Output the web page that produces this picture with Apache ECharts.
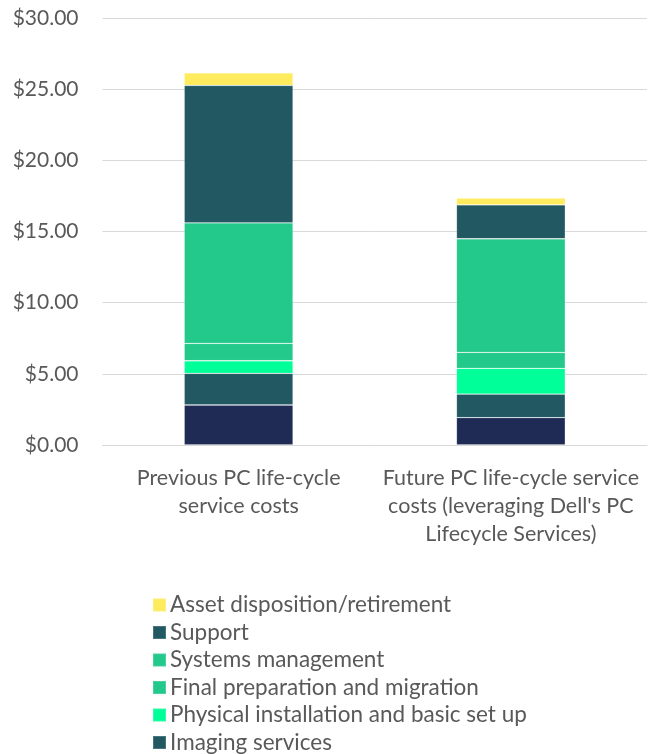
<!DOCTYPE html>
<html>
<head>
<meta charset="utf-8">
<script src="https://cdn.jsdelivr.net/npm/echarts@6/dist/echarts.min.js"></script>
<style>
  html, body { margin: 0; padding: 0; background: #fff; }
  #chart { width: 657px; height: 754px; }
</style>
</head>
<body>
<div id="chart"></div>
<script>
  // categories (x axis)
  var categories = [
    'Previous PC life-cycle\nservice costs',
    'Future PC life-cycle service\ncosts (leveraging Dell\'s PC\nLifecycle Services)'
  ]

  // series values, bottom of the stack first
  var planning = [2.81, 1.92]
  var imaging = [2.22, 1.66]
  var physical = [0.89, 1.81]
  var finalPrep = [1.22, 1.12]
  var systemsMgmt = [8.47, 7.98]
  var support = [9.65, 2.38]
  var assetDisposition = [0.88, 0.48]

  var seriesNames = [
    'Planning and procurement',
    'Imaging services',
    'Physical installation and basic set up',
    'Final preparation and migration',
    'Systems management',
    'Support',
    'Asset disposition/retirement'
  ]
  var seriesData = [planning, imaging, physical, finalPrep, systemsMgmt, support, assetDisposition]
  var seriesColors = ['#1f2b55', '#215862', '#00ff99', '#22c98a', '#22c98a', '#215862', '#ffeb5e']

  var yTicks = { min: 0, max: 30, interval: 5 }

  var chart = echarts.init(document.getElementById('chart'))
  var font = 'Lato, "Open Sans", sans-serif'

  chart.setOption({
    animation: false,
    textStyle: { fontFamily: font },
    grid: {
      left: 102.5,
      right: 10,
      top: 18,
      bottom: 309,
      containLabel: false
    },
    legend: {
      orient: 'vertical',
      left: 147,
      top: 588,
      height: 240,
      padding: 5,
      itemWidth: 13,
      itemHeight: 13,
      itemGap: 3.5,
      icon: 'rect',
      textStyle: {
        fontFamily: font,
        fontSize: 22.5,
        color: '#595959',
        lineHeight: 24,
        padding: [0, 0, 0, -1]
      },
      data: seriesNames.slice().reverse()
    },
    xAxis: {
      type: 'category',
      data: categories,
      axisTick: { show: false },
      axisLine: { lineStyle: { color: '#d9d9d9', width: 1 } },
      axisLabel: {
        interval: 0,
        margin: 19,
        fontFamily: font,
        fontSize: 21.5,
        lineHeight: 28,
        color: '#595959',
        align: 'center'
      }
    },
    yAxis: {
      type: 'value',
      min: yTicks.min,
      max: yTicks.max,
      interval: yTicks.interval,
      axisLine: { show: false },
      axisTick: { show: false },
      splitLine: { lineStyle: { color: '#d9d9d9', width: 1 } },
      axisLabel: {
        margin: 24,
        fontFamily: font,
        fontSize: 21,
        color: '#595959',
        formatter: function (v) { return '$' + v.toFixed(2) }
      }
    },
    series: seriesNames.map(function (name, i) {
      return {
        name: name,
        type: 'bar',
        stack: 'total',
        barCategoryGap: '60%',
        data: seriesData[i],
        itemStyle: {
          color: seriesColors[i],
          borderColor: 'rgba(255,255,255,0.18)',
          borderWidth: 0.8
        }
      }
    })
  })
</script>
</body>
</html>
